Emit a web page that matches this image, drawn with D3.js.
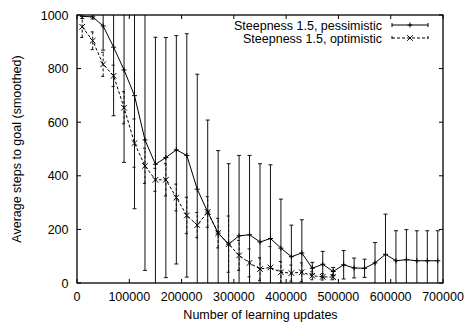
<!DOCTYPE html>
<html>
<head>
<meta charset="utf-8">
<script src="https://cdn.jsdelivr.net/npm/d3@7"></script>
<style>
  body { margin: 0; background: #fff; }
  text { font-family: "Liberation Sans", Arial, sans-serif; font-size: 12.5px; fill: #000; }
</style>
</head>
<body>
<div id="chart"></div>
<script>
// learning updates (x positions of the smoothed samples)
const updates = [10000, 30000, 50000, 70000, 90000, 110000, 130000, 150000, 170000, 190000,
  210000, 230000, 250000, 270000, 290000, 310000, 330000, 350000, 370000, 390000,
  410000, 430000, 450000, 470000, 490000, 510000, 530000, 550000, 570000, 590000,
  610000, 630000, 650000, 670000, 690000];

const pessValues = [995, 993, 959, 880, 795, 699, 534, 443, 468, 497,
  476, 350, 265, 186, 145, 176, 180, 153, 166, 130,
  98, 112, 55, 70, 43, 68, 56, 55, 75, 107,
  83, 87, 83, 83, 83];
const pessErrors = [8, 8, 90, 256, 345, 422, 487, 474, 448, 426,
  454, 429, 343, 308, 300, 300, 296, 292, 275, 183,
  118, 124, 22, 48, 15, 53, 37, 34, 76, 150,
  112, 112, 112, 112, 112];

const optValues = [956, 904, 816, 773, 654, 522, 437, 385, 385, 319,
  252, 216, 265, 186, 145, 103, 75, 52, 58, 40,
  37, 40, 27, 23, 22];
const optErrors = [40, 33, 45, 40, 60, 90, 66, 43, 60, 50,
  68, 47, 57, 55, 105, 56, 52, 42, 78, 40,
  30, 35, 15, 12, 10];

const xTicks = [0, 100000, 200000, 300000, 400000, 500000, 600000, 700000];
const yTicks = [0, 200, 400, 600, 800, 1000];
const seriesNames = ["Steepness 1.5, pessimistic", "Steepness 1.5, optimistic"];

const width = 465, height = 322;
const margin = { top: 15, right: 22, bottom: 39, left: 77 };

const svg = d3.select('#chart')
  .append('svg')
  .attr('width', width)
  .attr('height', height);

const x = d3.scaleLinear().domain([0, 700000]).range([margin.left, width - margin.right]);
const y = d3.scaleLinear().domain([0, 1000]).range([height - margin.bottom, margin.top]);

svg.append('clipPath').attr('id', 'plot')
  .append('rect')
  .attr('x', x(0)).attr('y', y(1000))
  .attr('width', x(700000) - x(0)).attr('height', y(0) - y(1000));

const series = [
  { name: seriesNames[0], vals: pessValues, errs: pessErrors, dash: null, mark: 'plus' },
  { name: seriesNames[1], vals: optValues, errs: optErrors, dash: '3,2', mark: 'cross' }
];

const capW = 2;

function drawMark(g, cx, cy, type) {
  const p = d3.path();
  if (type === 'plus') {
    const m = 2.5;
    p.moveTo(cx - m, cy); p.lineTo(cx + m, cy);
    p.moveTo(cx, cy - m); p.lineTo(cx, cy + m);
  } else {
    const m = 2.8;
    p.moveTo(cx - m, cy - m); p.lineTo(cx + m, cy + m);
    p.moveTo(cx - m, cy + m); p.lineTo(cx + m, cy - m);
  }
  g.append('path').attr('d', p.toString()).attr('stroke', '#000').attr('fill', 'none');
}

const plot = svg.append('g').attr('clip-path', 'url(#plot)');

series.forEach(s => {
  const pts = s.vals.map((v, i) => ({ x: updates[i], v: v, e: s.errs[i] }));
  const g = plot.append('g');

  // error bars
  pts.forEach(d => {
    const p = d3.path();
    const xx = x(d.x), lo = y(d.v - d.e), hi = y(d.v + d.e);
    p.moveTo(xx, lo); p.lineTo(xx, hi);
    p.moveTo(xx - capW, lo); p.lineTo(xx + capW, lo);
    p.moveTo(xx - capW, hi); p.lineTo(xx + capW, hi);
    g.append('path').attr('d', p.toString())
      .attr('stroke', '#111').attr('stroke-width', 1).attr('fill', 'none')
      .attr('stroke-dasharray', s.dash);
  });

  g.append('path')
    .datum(pts)
    .attr('d', d3.line().x(d => x(d.x)).y(d => y(d.v)))
    .attr('stroke', '#000').attr('fill', 'none').attr('stroke-width', 1)
    .attr('stroke-dasharray', s.dash);

  pts.forEach(d => drawMark(g, x(d.x), y(d.v), s.mark));
});

// border + inward ticks on all sides
const axes = svg.append('g');
const tl = 4;
xTicks.forEach(t => {
  const p = d3.path();
  p.moveTo(x(t), y(0)); p.lineTo(x(t), y(0) - tl);
  p.moveTo(x(t), y(1000)); p.lineTo(x(t), y(1000) + tl);
  axes.append('path').attr('d', p.toString()).attr('stroke', '#000');
  axes.append('text').attr('x', x(t)).attr('y', y(0) + 18)
    .attr('text-anchor', 'middle').text(t);
});
yTicks.forEach(t => {
  const p = d3.path();
  p.moveTo(x(0), y(t)); p.lineTo(x(0) + tl, y(t));
  p.moveTo(x(700000), y(t)); p.lineTo(x(700000) - tl, y(t));
  axes.append('path').attr('d', p.toString()).attr('stroke', '#000');
  axes.append('text').attr('x', x(0) - 8.5).attr('y', y(t)).attr('dy', '0.36em')
    .attr('text-anchor', 'end').text(t);
});
axes.append('rect')
  .attr('x', x(0)).attr('y', y(1000))
  .attr('width', x(700000) - x(0)).attr('height', y(0) - y(1000))
  .attr('fill', 'none').attr('stroke', '#000').attr('stroke-width', 1.3);

svg.append('text')
  .attr('x', (x(0) + x(700000)) / 2 + 0.5).attr('y', 319)
  .attr('text-anchor', 'middle').text('Number of learning updates');
svg.append('text')
  .attr('transform', `translate(21,${(y(0) + y(1000)) / 2}) rotate(-90)`)
  .attr('text-anchor', 'middle').text('Average steps to goal (smoothed)');

// legend
const leg = svg.append('g');
series.forEach((s, i) => {
  const ly = 25 + i * 13;
  leg.append('text').attr('x', 382).attr('y', ly).attr('dy', '0.36em')
    .attr('text-anchor', 'end').text(s.name);
  const p = d3.path();
  p.moveTo(392, ly); p.lineTo(428, ly);
  p.moveTo(392, ly - capW); p.lineTo(392, ly + capW);
  p.moveTo(428, ly - capW); p.lineTo(428, ly + capW);
  leg.append('path').attr('d', p.toString()).attr('stroke', '#000')
    .attr('fill', 'none').attr('stroke-dasharray', s.dash);
  drawMark(leg, 410, ly, s.mark);
});
</script>
</body>
</html>
